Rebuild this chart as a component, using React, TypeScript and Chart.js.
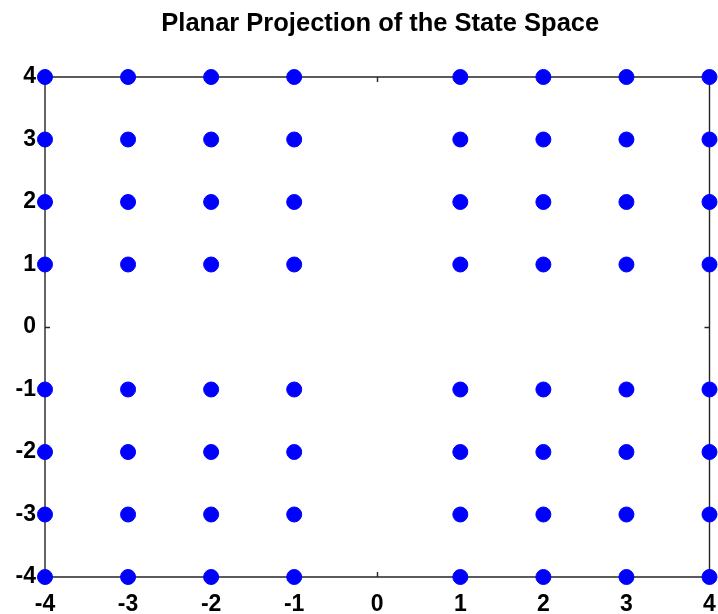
import React, { useEffect, useRef } from "react";
import { Chart, registerables } from "chart.js";

Chart.register(...registerables);

const TITLE = "Planar Projection of the State Space";
const xValues = [-4, -3, -2, -1, 1, 2, 3, 4];
const yValues = [-4, -3, -2, -1, 1, 2, 3, 4];
const tickValues = [-4, -3, -2, -1, 0, 1, 2, 3, 4];
const POINT_COLOR = "#0000ff";
const AXIS_COLOR = "#262626";
const FONT = "'Liberation Sans', Arial, sans-serif";

const boxPlugin = {
  id: "matlabBox",
  beforeDatasetsDraw(chart: any) {
    const { ctx, chartArea } = chart;
    const { left, right, top, bottom } = chartArea;
    const xs = chart.scales.x;
    const ys = chart.scales.y;
    const len = 5;
    ctx.save();
    ctx.strokeStyle = AXIS_COLOR;
    ctx.lineWidth = 1.4;
    ctx.beginPath();
    ctx.rect(left, top, right - left, bottom - top);
    ctx.stroke();
    ctx.beginPath();
    tickValues.forEach((v) => {
      const px = Math.round(xs.getPixelForValue(v)) + 0.5;
      ctx.moveTo(px, bottom);
      ctx.lineTo(px, bottom - len);
      ctx.moveTo(px, top);
      ctx.lineTo(px, top + len);
      const py = Math.round(ys.getPixelForValue(v)) + 0.5;
      ctx.moveTo(left, py);
      ctx.lineTo(left + len, py);
      ctx.moveTo(right, py);
      ctx.lineTo(right - len, py);
    });
    ctx.stroke();
    ctx.restore();
  },
  afterDraw(chart: any) {
    const { ctx, chartArea } = chart;
    ctx.save();
    ctx.fillStyle = "#000000";
    ctx.font = `bold 25.5px ${FONT}`;
    ctx.textAlign = "center";
    ctx.textBaseline = "alphabetic";
    ctx.fillText(TITLE, (chartArea.left + chartArea.right) / 2 + 3, 31);
    ctx.restore();
  },
};

export default function App() {
  const ref = useRef<HTMLCanvasElement>(null);
  useEffect(() => {
    document.body.style.margin = "0";
    const points: { x: number; y: number }[] = [];
    yValues.forEach((y) => xValues.forEach((x) => points.push({ x, y })));
    const chart = new Chart(ref.current!, {
      type: "scatter",
      data: {
        datasets: [
          {
            data: points,
            backgroundColor: POINT_COLOR,
            borderColor: POINT_COLOR,
            pointRadius: 7.5,
            borderWidth: 1,
            clip: false as any,
          },
        ],
      },
      options: {
        responsive: false,
        animation: false,
        layout: { padding: { top: 77, right: 6, left: 0, bottom: 0 } },
        plugins: {
          legend: { display: false },
          title: { display: false },
          tooltip: { enabled: false },
        },
        scales: {
          x: {
            type: "linear",
            min: -4,
            max: 4,
            grid: { display: false, drawTicks: false },
            border: { display: false },
            afterFit: (s: any) => {
              s.height = 37;
              s.paddingLeft = 0;
              s.paddingRight = 0;
            },
            afterBuildTicks: (s: any) => {
              s.ticks = tickValues.map((v) => ({ value: v }));
            },
            ticks: {
              color: "#000000",
              font: { family: FONT, size: 23, weight: "bold" },
              padding: 14,
              maxRotation: 0,
              autoSkip: false,
            },
          },
          y: {
            type: "linear",
            min: -4,
            max: 4,
            grid: { display: false, drawTicks: false },
            border: { display: false },
            afterFit: (s: any) => {
              s.width = 45;
              s.paddingTop = 0;
              s.paddingBottom = 0;
            },
            afterBuildTicks: (s: any) => {
              s.ticks = tickValues.map((v) => ({ value: v }));
            },
            ticks: {
              color: "#000000",
              font: { family: FONT, size: 23, weight: "bold" },
              padding: 9,
              autoSkip: false,
            },
          },
        },
      },
      plugins: [boxPlugin],
    });
    return () => chart.destroy();
  }, []);
  return (
    <div style={{ position: "absolute", left: 0, top: 0, width: 718, height: 614, background: "#fff" }}>
      <canvas ref={ref} width={718} height={614} />
    </div>
  );
}
